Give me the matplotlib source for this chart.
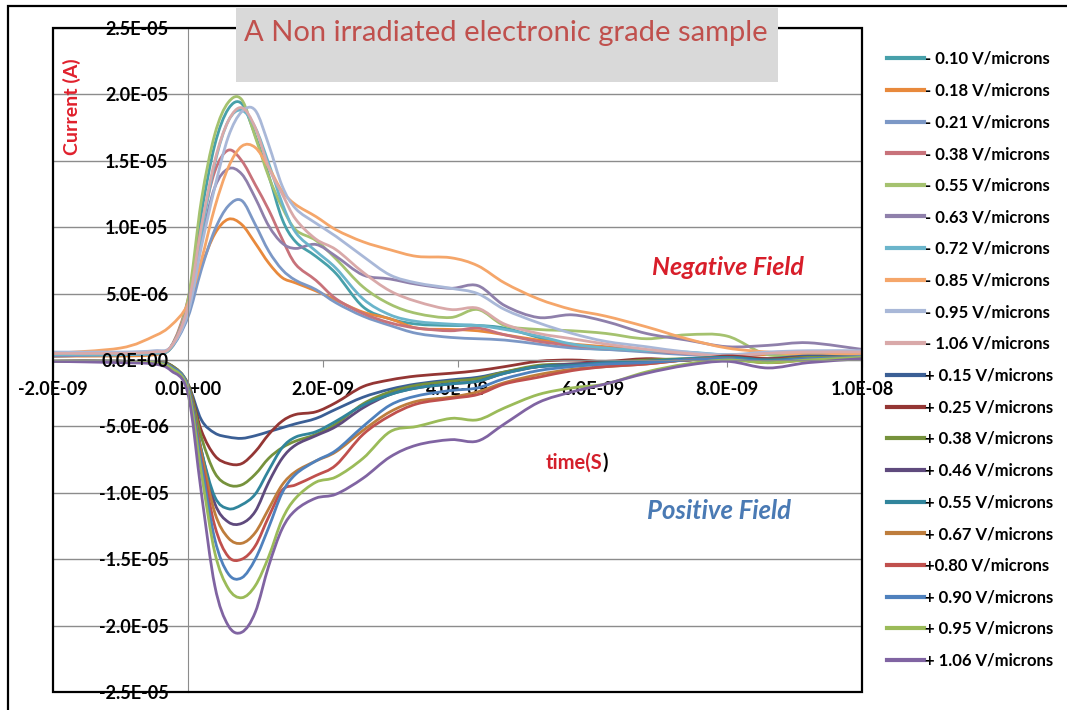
import matplotlib
matplotlib.use('Agg')
import matplotlib.pyplot as plt
import numpy as np
from matplotlib.patches import Rectangle, PathPatch
from matplotlib.path import Path
from matplotlib.lines import Line2D
from matplotlib.ticker import FixedLocator, FuncFormatter

plt.rcParams['font.family'] = ['Lato', 'DejaVu Sans']
plt.rcParams['font.weight'] = 'bold'

# time axis in ns, currents in uA
time_ns = [-2.0, -1.0, -0.5, -0.25, 0.0, 0.2, 0.4, 0.6, 0.8, 1.0, 1.2, 1.4, 1.6, 1.9, 2.2,
           2.6, 3.0, 3.4, 3.9, 4.3, 4.7, 5.2, 5.7, 6.2, 6.8, 7.4, 8.0, 8.6, 9.2, 10.0]

# negative field
neg_010 = [0.3, 0.4, 0.5, 1.0, 4.3, 11.0, 16.2, 18.9, 19.3, 16.9, 13.9, 10.6, 8.9, 7.8, 6.5,
           4.0, 3.1, 2.7, 2.6, 2.6, 2.4, 1.7, 1.0, 0.8, 0.7, 0.5, 0.3, 0.5, 0.6, 0.5]
neg_018 = [0.3, 0.3, 0.4, 0.9, 3.5, 7.0, 9.5, 10.6, 10.2, 8.8, 7.3, 6.2, 5.8, 5.2, 4.5,
           3.6, 3.1, 2.4, 2.3, 2.2, 1.9, 1.5, 1.2, 1.0, 0.7, 0.5, 0.3, 0.4, 0.5, 0.4]
neg_021 = [0.4, 0.4, 0.5, 0.9, 3.2, 6.8, 9.8, 11.6, 12.0, 10.2, 8.2, 6.8, 6.0, 5.3, 4.3,
           3.3, 2.6, 2.0, 1.7, 1.6, 1.5, 1.2, 0.9, 0.8, 0.6, 0.4, 0.3, 0.5, 0.5, 0.4]
neg_038 = [0.3, 0.4, 0.5, 1.0, 4.5, 10.0, 14.2, 15.8, 15.0, 13.2, 11.3, 9.1, 7.2, 6.0, 4.6,
           3.5, 2.8, 2.4, 2.2, 2.4, 1.9, 1.4, 1.1, 0.9, 0.7, 0.5, 0.3, 0.5, 0.6, 0.5]
neg_055 = [0.3, 0.4, 0.5, 1.0, 4.5, 12.0, 17.0, 19.4, 19.6, 16.8, 13.8, 11.5, 9.8, 9.0, 7.6,
           5.5, 4.2, 3.5, 3.2, 3.8, 2.6, 2.3, 2.2, 2.0, 1.6, 1.9, 1.8, 0.4, 0.5, 0.6]
neg_063 = [0.3, 0.4, 0.5, 1.0, 4.0, 9.0, 13.0, 14.4, 14.0, 12.2, 10.1, 8.8, 8.4, 8.7, 7.8,
           6.4, 6.1, 5.7, 5.4, 5.6, 4.1, 3.2, 3.4, 2.9, 2.0, 1.5, 1.0, 1.1, 1.3, 0.8]
neg_072 = [0.4, 0.4, 0.5, 0.9, 3.8, 9.5, 14.8, 18.0, 18.8, 17.5, 14.8, 11.8, 9.6, 8.2, 6.9,
           4.6, 3.4, 2.9, 2.7, 2.6, 2.3, 1.8, 1.2, 0.9, 0.7, 0.6, 0.4, 0.5, 0.6, 0.5]
neg_085 = [0.5, 0.9, 1.8, 2.6, 4.2, 7.5, 11.5, 14.5, 16.1, 16.0, 14.5, 12.7, 11.7, 10.8, 9.8,
           8.9, 8.3, 7.8, 7.7, 7.1, 5.8, 4.6, 3.8, 3.3, 2.5, 1.6, 0.9, 0.6, 0.4, 0.5]
neg_095 = [0.6, 0.6, 0.7, 1.0, 3.5, 8.5, 13.0, 16.8, 18.7, 18.8, 16.2, 13.1, 11.4, 10.3, 9.3,
           7.8, 6.4, 5.8, 5.4, 5.0, 3.8, 2.8, 2.0, 1.4, 1.0, 0.6, 0.4, 0.6, 0.7, 0.7]
neg_106 = [0.5, 0.5, 0.6, 1.0, 4.0, 10.0, 15.0, 18.0, 19.0, 17.5, 14.5, 12.5, 10.6, 9.1, 8.3,
           6.6, 5.2, 4.4, 3.8, 3.9, 2.7, 2.0, 1.6, 1.2, 0.8, 0.5, 0.3, 0.5, 0.6, 0.6]

# positive field
pos_015 = [-0.1, -0.1, -0.2, -0.4, -1.8, -4.5, -5.5, -5.8, -5.9, -5.7, -5.4, -5.1, -4.8, -4.4, -3.7,
           -2.8, -2.2, -1.8, -1.5, -1.3, -0.9, -0.5, -0.4, -0.3, -0.2, 0.0, 0.2, 0.1, 0.3, 0.2]
pos_025 = [-0.1, -0.1, -0.2, -0.4, -1.8, -5.3, -7.2, -7.8, -7.8, -6.9, -5.6, -4.6, -4.1, -3.9, -3.2,
           -2.0, -1.5, -1.2, -1.0, -0.8, -0.5, -0.1, 0.0, -0.1, 0.1, 0.0, 0.3, 0.1, 0.2, 0.1]
pos_038 = [-0.1, -0.1, -0.2, -0.4, -1.8, -5.8, -8.5, -9.4, -9.4, -8.6, -7.4, -6.6, -6.1, -5.6, -4.8,
           -3.3, -2.4, -1.9, -1.6, -1.4, -0.9, -0.4, -0.3, -0.2, 0.0, 0.1, 0.2, 0.0, 0.2, 0.2]
pos_046 = [-0.1, -0.1, -0.2, -0.5, -2.0, -6.8, -10.8, -12.2, -12.3, -11.4, -9.2, -7.4, -6.4, -5.7, -5.0,
           -3.6, -2.6, -2.1, -1.8, -1.6, -1.0, -0.5, -0.3, -0.2, -0.1, 0.0, 0.2, 0.0, 0.1, 0.2]
pos_055 = [-0.1, -0.1, -0.2, -0.5, -2.0, -6.8, -10.3, -11.2, -10.9, -10.1, -8.3, -6.6, -5.8, -5.4, -4.6,
           -3.4, -2.6, -2.1, -1.8, -1.6, -1.0, -0.5, -0.4, -0.2, -0.1, 0.1, 0.2, 0.0, 0.1, 0.2]
pos_067 = [-0.1, -0.1, -0.2, -0.5, -2.0, -7.0, -11.5, -13.4, -13.8, -13.0, -11.2, -9.4, -8.4, -7.6, -6.9,
           -5.3, -3.9, -3.1, -2.8, -2.4, -1.7, -1.1, -0.7, -0.5, -0.3, 0.0, 0.1, -0.2, 0.1, 0.2]
pos_080 = [-0.1, -0.1, -0.2, -0.5, -2.0, -7.5, -12.5, -14.8, -15.0, -14.0, -11.8, -9.8, -9.4, -8.7, -7.9,
           -5.6, -4.2, -3.3, -2.9, -2.6, -1.8, -1.3, -0.8, -0.5, -0.3, 0.0, 0.1, -0.2, 0.0, 0.1]
pos_090 = [-0.1, -0.1, -0.2, -0.5, -2.0, -7.8, -13.5, -16.1, -16.4, -15.0, -12.6, -10.0, -8.6, -7.6, -6.8,
           -5.0, -3.4, -2.7, -2.3, -2.1, -1.4, -0.8, -0.5, -0.3, -0.2, 0.0, 0.1, -0.1, 0.1, 0.2]
pos_095 = [-0.1, -0.1, -0.2, -0.6, -2.2, -8.5, -14.5, -17.2, -17.9, -17.0, -14.8, -12.0, -10.4, -9.2, -8.8,
           -7.4, -5.4, -5.0, -4.4, -4.5, -3.6, -2.6, -2.1, -1.8, -0.9, -0.3, 0.0, -0.2, 0.0, 0.2]
pos_106 = [-0.1, -0.2, -0.3, -0.8, -2.5, -10.0, -17.0, -20.0, -20.5, -19.0, -15.5, -12.7, -11.3, -10.4, -10.1,
           -8.9, -7.3, -6.4, -6.0, -6.1, -4.8, -3.2, -2.4, -1.8, -1.0, -0.4, -0.1, -0.6, -0.2, 0.1]

series = [neg_010, neg_018, neg_021, neg_038, neg_055, neg_063, neg_072, neg_085, neg_095, neg_106,
          pos_015, pos_025, pos_038, pos_046, pos_055, pos_067, pos_080, pos_090, pos_095, pos_106]
labels = ['- 0.10 V/microns', '- 0.18 V/microns', '- 0.21 V/microns', '- 0.38 V/microns',
          '- 0.55 V/microns', '- 0.63 V/microns', '- 0.72 V/microns', '- 0.85 V/microns',
          '- 0.95 V/microns', '- 1.06 V/microns',
          '+ 0.15 V/microns', '+ 0.25 V/microns', '+ 0.38 V/microns', '+ 0.46 V/microns',
          '+ 0.55 V/microns', '+ 0.67 V/microns', '+0.80 V/microns', '+ 0.90 V/microns',
          '+ 0.95 V/microns', '+ 1.06 V/microns']
colors = ['#47A0AA', '#E8893C', '#7C98C6', '#C8727A', '#A5C26F', '#8F80AB', '#6BB5CB', '#F5A66A',
          '#A9B8D8', '#D9A9A9',
          '#3B5F95', '#943634', '#76923C', '#5F4A7D', '#31859C', '#BE7D3C', '#C0504D', '#4F81BD',
          '#9BBB59', '#8064A2']

x_ticks = [-2e-9, 0.0, 2e-9, 4e-9, 6e-9, 8e-9, 1e-8]
y_ticks = [-2.5e-5, -2.0e-5, -1.5e-5, -1.0e-5, -5.0e-6, 0.0, 5.0e-6, 1.0e-5, 1.5e-5, 2.0e-5, 2.5e-5]


def smooth_path(x, y):
    # excel style smoothed line: bezier segments through the points
    n = len(x)
    verts = [(x[0], y[0])]
    codes = [Path.MOVETO]
    for i in range(n - 1):
        xp, yp = (x[i - 1], y[i - 1]) if i > 0 else (x[i], y[i])
        xn, yn = (x[i + 2], y[i + 2]) if i + 2 < n else (x[i + 1], y[i + 1])
        c1 = (x[i] + (x[i + 1] - xp) / 6, y[i] + (y[i + 1] - yp) / 6)
        c2 = (x[i + 1] - (xn - x[i]) / 6, y[i + 1] - (yn - y[i]) / 6)
        verts += [c1, c2, (x[i + 1], y[i + 1])]
        codes += [Path.CURVE4] * 3
    return Path(verts, codes)


W, H = 1067, 710
rect = [53 / W, 1 - 692 / H, 809 / W, 664 / H]
fig = plt.figure(figsize=(W / 100, H / 100), dpi=100, facecolor='white')
ax = fig.add_axes(rect)

t = np.array(time_ns) * 1e-9
handles = []
for vals, lab, col in zip(series, labels, colors):
    ax.add_patch(PathPatch(smooth_path(t, np.array(vals) * 1e-6), fill=False, ec=col,
                           lw=2.0, capstyle='round', joinstyle='round'))
    handles.append(Line2D([], [], color=col, lw=3, label=lab))

ax.set_xlim(-2e-9, 1e-8)
ax.set_ylim(-2.5e-5, 2.5e-5)
sci = FuncFormatter(lambda v, pos: '%.1E' % (0.0 if abs(v) < 1e-15 else v))
ax.xaxis.set_major_locator(FixedLocator(x_ticks))
ax.yaxis.set_major_locator(FixedLocator(y_ticks))
ax.xaxis.set_major_formatter(sci)
ax.yaxis.set_major_formatter(sci)

# axes cross at zero, grey like the gridlines
grey = '#8C8C8C'
for side in ['top', 'right']:
    ax.spines[side].set_visible(False)
ax.spines['left'].set_position(('data', 0))
ax.spines['bottom'].set_position(('data', 0))
ax.spines['left'].set_color(grey)
ax.spines['bottom'].set_color(grey)
ax.yaxis.grid(True, color=grey, lw=1)
ax.set_axisbelow(True)
ax.tick_params(axis='y', length=0, labelleft=False)
ax.tick_params(axis='x', direction='out', length=5, color=grey, pad=10, labelsize=13)

# y tick labels sit on top of the curves
ax_lab = fig.add_axes(rect, sharex=ax, sharey=ax, facecolor='none')
for side in ['top', 'right', 'bottom']:
    ax_lab.spines[side].set_visible(False)
ax_lab.spines['left'].set_position(('data', 0))
ax_lab.spines['left'].set_visible(False)
ax_lab.tick_params(axis='x', bottom=False, labelbottom=False)
ax_lab.tick_params(axis='y', length=0, pad=14, labelsize=13)

# plot area frame
ax_lab.add_patch(Rectangle((0, 0), 1, 1, transform=ax_lab.transAxes, fill=False, ec='black',
                           lw=1.6, clip_on=False, zorder=5))

# outer chart frame
fig.add_artist(Rectangle((8 / W, -0.1), 1.0, 1 - 6 / H + 0.1, transform=fig.transFigure,
                         fill=False, ec='black', lw=1.6))

# title box
fig.add_artist(Rectangle((236 / W, 1 - 82 / H), (778 - 236) / W, (82 - 8) / H,
                         transform=fig.transFigure, fc='#D9D9D9', ec='none'))
fig.text(506 / W, 1 - 33 / H, 'A Non irradiated electronic grade sample', ha='center',
         va='center', color='#C0504D', fontsize=21, fontweight='normal')

fig.text(72 / W, 1 - 107 / H, 'Current (A)', rotation=90, ha='center', va='center',
         color='#E0202C', fontsize=14)
t1 = fig.text(546 / W, 1 - 463 / H, 'time(S', ha='left', va='center', color='#D41F2B',
              fontsize=14.5)
ax_lab.annotate(')', xy=(1, 0), xycoords=t1, ha='left', va='bottom', color='black',
                fontsize=14.5)

fig.text(728 / W, 1 - 268 / H, 'Negative Field', ha='center', va='center', color='#D81E2A',
         style='italic', fontsize=18)
fig.text(719 / W, 1 - 511 / H, 'Positive Field', ha='center', va='center', color='#4A7AB4',
         style='italic', fontsize=18.5)

leg = ax_lab.legend(handles=handles, loc='upper left', bbox_to_anchor=(887 / W, 1 - 51 / H),
                    bbox_transform=fig.transFigure, frameon=False, fontsize=12,
                    handlelength=2.2, handletextpad=0.1, labelspacing=0.94,
                    borderaxespad=0, borderpad=0)

fig.savefig('out.png', dpi=100, facecolor='white')
